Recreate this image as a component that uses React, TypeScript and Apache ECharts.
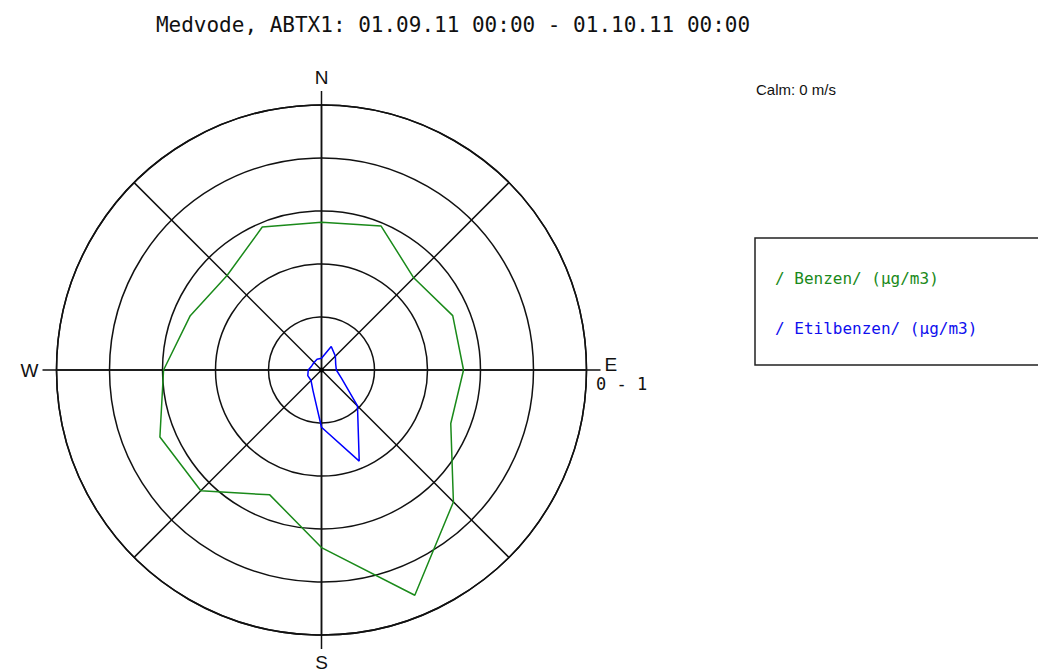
import React, { useEffect, useRef } from "react";
import * as echarts from "echarts";

const TITLE = "Medvode, ABTX1: 01.09.11 00:00 - 01.10.11 00:00";
const CALM = "Calm: 0 m/s";
const SPEED_CLASS = "0 - 1";
const DIRECTIONS = [0, 22.5, 45, 67.5, 90, 112.5, 135, 157.5, 180, 202.5, 225, 247.5, 270, 292.5, 315, 337.5];
const COMPASS: Record<number, string> = { 0: "N", 90: "E", 180: "S", 270: "W" };
const BENZEN_NAME = "/ Benzen/ (µg/m3)";
const ETIL_NAME = "/ Etilbenzen/ (µg/m3)";
const BENZEN = [2.79, 2.94, 2.46, 2.68, 2.68, 2.64, 3.52, 4.6, 3.35, 2.55, 3.22, 3.3, 2.98, 2.68, 2.52, 2.92];
const ETILBENZEN = [0.22, 0.48, 0.37, 0.29, 0.28, 0.41, 0.96, 1.86, 1.08, 0.42, 0.28, 0.28, 0.25, 0.2, 0.2, 0.22];

const toPolar = (vals: number[]) => {
  const pts = vals.map((v, i) => [v, DIRECTIONS[i]]);
  pts.push([vals[0], 360]);
  return pts;
};

const CX = 321.5;
const CY = 370;
const FONT = "Liberation Sans, Arial, sans-serif";
const MONO = "DejaVu Sans Mono, monospace";

export default function App() {
  const ref = useRef<HTMLDivElement>(null);
  useEffect(() => {
    document.body.style.margin = "0";
    const chart = echarts.init(ref.current!, undefined, { renderer: "svg" });
    const grid = { color: "#111", width: 1.5 };
    chart.setOption({
      animation: false,
      backgroundColor: "#fff",
      title: {
        text: TITLE,
        left: 448,
        top: 9,
        textAlign: "center",
        textStyle: { fontFamily: MONO, fontSize: 21, fontWeight: "normal", color: "#111" },
      },
      polar: [
        { center: [CX, CY], radius: 279 },
        { center: [CX, CY], radius: 265 },
      ],
      angleAxis: [
        {
          polarIndex: 0,
          type: "value",
          min: 0,
          max: 360,
          interval: 90,
          startAngle: 90,
          clockwise: true,
          axisLine: { show: false },
          axisTick: { show: false },
          splitLine: { show: true, lineStyle: grid },
          axisLabel: {
            show: true,
            margin: 4,
            fontFamily: FONT,
            fontSize: 19,
            color: "#111",
            formatter: (v: number) => (v === 90 ? "{e|E}" : v === 360 ? "" : COMPASS[v] ?? ""),
            rich: { e: { fontFamily: FONT, fontSize: 19, color: "#111", padding: [0, 0, 12, 0] } },
          },
        },
        {
          polarIndex: 1,
          type: "value",
          min: 0,
          max: 360,
          interval: 45,
          startAngle: 90,
          clockwise: true,
          axisLine: { show: true, lineStyle: grid },
          axisTick: { show: false },
          axisLabel: { show: false },
          splitLine: { show: true, lineStyle: grid },
        },
      ],
      radiusAxis: [
        {
          polarIndex: 0,
          min: 0,
          max: 1,
          axisLine: { show: false },
          axisTick: { show: false },
          axisLabel: { show: false },
          splitLine: { show: false },
        },
        {
          polarIndex: 1,
          min: 0,
          max: 5,
          interval: 1,
          axisLine: { show: false },
          axisTick: { show: false },
          axisLabel: { show: false },
          splitLine: { show: true, lineStyle: grid },
        },
      ],
      legend: {
        orient: "vertical",
        left: 765,
        top: 265,
        itemGap: 34,
        icon: "none",
        itemWidth: 0,
        itemHeight: 0,
        textStyle: { fontFamily: MONO, fontSize: 16 },
        data: [
          { name: BENZEN_NAME, textStyle: { color: "#1a8a1a" } },
          { name: ETIL_NAME, textStyle: { color: "#1010ee" } },
        ],
      },
      series: [
        {
          name: BENZEN_NAME,
          type: "line",
          coordinateSystem: "polar",
          polarIndex: 1,
          data: toPolar(BENZEN),
          symbol: "none",
          lineStyle: { color: "#1a8a1a", width: 1.5 },
          itemStyle: { color: "#1a8a1a" },
        },
        {
          name: ETIL_NAME,
          type: "line",
          coordinateSystem: "polar",
          polarIndex: 1,
          data: toPolar(ETILBENZEN),
          symbol: "none",
          lineStyle: { color: "#0000ff", width: 1.5 },
          itemStyle: { color: "#0000ff" },
        },
        {
          name: "center",
          type: "scatter",
          coordinateSystem: "polar",
          polarIndex: 1,
          data: [[0, 0]],
          symbolSize: 5,
          itemStyle: { color: "#000" },
          silent: true,
        },
      ],
      graphic: [
        {
          type: "text",
          left: 756,
          top: 82,
          style: { text: CALM, fontFamily: FONT, fontSize: 15, fill: "#111" },
        },
        {
          type: "text",
          left: 596,
          top: 375,
          style: { text: SPEED_CLASS, fontFamily: MONO, fontSize: 17, fill: "#111" },
        },
        {
          type: "rect",
          shape: { x: 755, y: 238, width: 320, height: 127 },
          style: { fill: "none", stroke: "#222", lineWidth: 1.5 },
          z: -1,
        },
      ],
    });
    return () => chart.dispose();
  }, []);
  return <div ref={ref} style={{ width: 1038, height: 672 }} />;
}
